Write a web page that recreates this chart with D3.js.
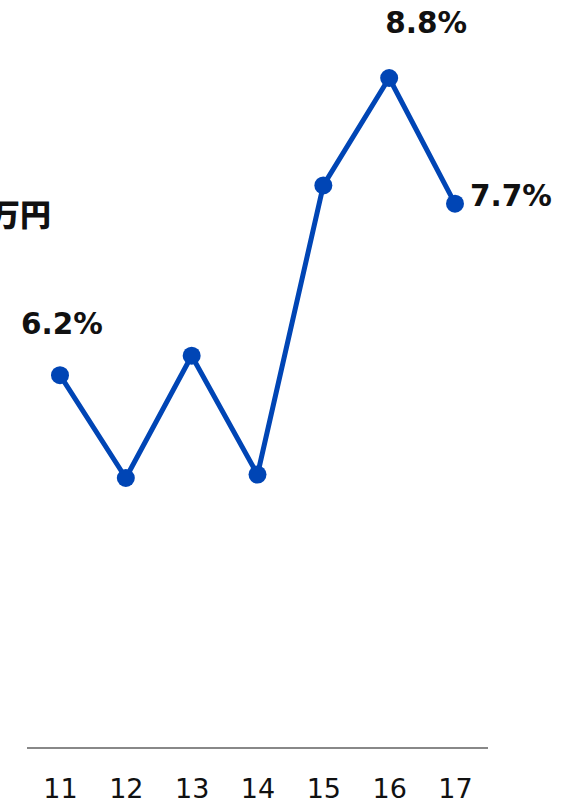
<!DOCTYPE html>
<html><head><meta charset="utf-8">
<script src="https://cdn.jsdelivr.net/npm/d3@7"></script>
<style>body{margin:0;background:#fff}svg{display:block}</style>
</head><body>
<svg id="c" width="568" height="804"></svg>
<script>
const categories = ["11","12","13","14","15","16","17"];
const values = [6.2, 5.3, 6.37, 5.33, 7.86, 8.8, 7.7];
const labels = [{i:0,text:"6.2%",pos:"top"},{i:5,text:"8.8%",pos:"topright"},{i:6,text:"7.7%",pos:"right"}];
const unitLabel = "万円";

const svg = d3.select("#c");
const font = "Verdana, 'DejaVu Sans', sans-serif";
const x = d3.scalePoint().domain(categories).range([60, 455]);
const y = d3.scaleLinear().domain([5.3, 8.8]).range([478, 78]);
const color = "#0045B5";

// baseline axis
svg.append("line").attr("x1",27).attr("x2",488).attr("y1",748).attr("y2",748)
  .attr("stroke","#888").attr("stroke-width",2);

const xAxis = d3.axisBottom(x).tickSize(0).tickPadding(0);
const gx = svg.append("g").attr("transform","translate(0,779)").call(xAxis);
gx.select(".domain").remove();
gx.selectAll("text").attr("font-family",font).attr("font-size",27).attr("fill","#111").attr("dy","0.71em");

svg.append("path").datum(values)
  .attr("d", d3.line().x((d,i)=>x(categories[i])).y(d=>y(d)))
  .attr("fill","none").attr("stroke",color).attr("stroke-width",5).attr("stroke-linejoin","round");

svg.selectAll("circle.pt").data(values).join("circle").attr("class","pt")
  .attr("cx",(d,i)=>x(categories[i])).attr("cy",d=>y(d)).attr("r",9).attr("fill",color);

labels.forEach(l=>{
  const px = x(categories[l.i]), py = y(values[l.i]);
  const t = svg.append("text").text(l.text).attr("font-family",font).attr("font-weight","bold")
    .attr("font-size",29.5).attr("fill","#111");
  if(l.pos==="top"){ t.attr("x",px+2).attr("y",py-41).attr("text-anchor","middle"); }
  else if(l.pos==="topright"){ t.attr("x",px+37).attr("y",py-45).attr("text-anchor","middle"); }
  else { t.attr("x",px+15).attr("y",py+2).attr("text-anchor","start"); }
});

svg.append("text").text(unitLabel).attr("x",51).attr("y",226).attr("text-anchor","end")
  .attr("font-family","'Noto Sans CJK JP', sans-serif").attr("font-weight","900").attr("font-size",31).attr("fill","#111");
</script>
</body></html>
